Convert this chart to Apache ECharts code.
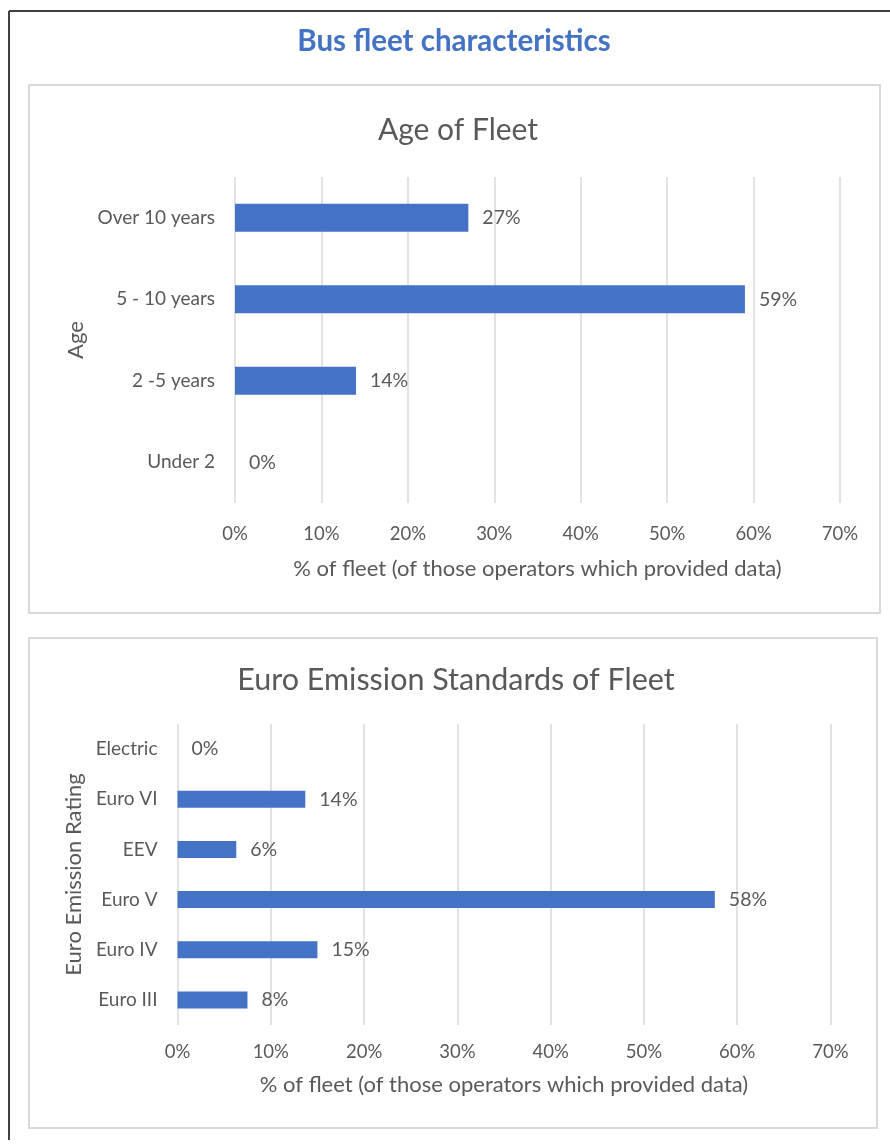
<!DOCTYPE html>
<html>
<head>
<meta charset="utf-8">
<script src="https://cdn.jsdelivr.net/npm/echarts@6/dist/echarts.min.js"></script>
<style>
html,body{margin:0;padding:0;background:#fff;}
#main{width:890px;height:1146px;}
</style>
</head>
<body>
<div id="main"></div>
<script>
// ---- Data ----
var pageTitle = 'Bus fleet characteristics';

var ageTitle = 'Age of Fleet';
var ageCategories = ['Over 10 years', '5 - 10 years', '2 -5 years', 'Under 2'];
var ageValues = [27, 59, 14, 0];
var ageAxisName = 'Age';

var euroTitle = 'Euro Emission Standards of Fleet';
var euroCategories = ['Electric', 'Euro VI', 'EEV', 'Euro V', 'Euro IV', 'Euro III'];
var euroValues = [0, 13.7, 6.3, 57.6, 15.0, 7.5];
var euroAxisName = 'Euro Emission Rating';

var xAxisName = '% of fleet (of those operators which provided data)';
var xMin = 0, xMax = 70, xInterval = 10;

// ---- Styles ----
var FONT = 'Lato';
var GREY = '#595959';
var BAR = '#4472C4';
var GRID = '#d9d9d9';

function pct(v){ return Math.round(v) + '%'; }

function xAxisCfg(gridIndex, margin, nameGap){
  return {
    type:'value', gridIndex:gridIndex, min:xMin, max:xMax, interval:xInterval,
    axisLine:{show:false}, axisTick:{show:false},
    splitLine:{show:true, lineStyle:{color:GRID, width:1.5}},
    axisLabel:{color:GREY, fontFamily:FONT, fontSize:18.5, margin:margin, formatter:function(v){return v+'%';}},
    name:xAxisName, nameLocation:'middle', nameGap:nameGap,
    nameTextStyle:{color:GREY, fontFamily:FONT, fontSize:22}
  };
}
function yAxisCfg(gridIndex, cats, name, nameGap){
  return {
    type:'category', gridIndex:gridIndex, data:cats, inverse:true,
    axisLine:{show:false}, axisTick:{show:false}, splitLine:{show:false},
    axisLabel:{color:GREY, fontFamily:FONT, fontSize:19, margin:20},
    name:name, nameLocation:'middle', nameGap:nameGap, nameRotate:90,
    nameTextStyle:{color:GREY, fontFamily:FONT, fontSize:22}
  };
}
function barSeries(idx, values, width){
  return {
    type:'bar', xAxisIndex:idx, yAxisIndex:idx, data:values, barWidth:width,
    itemStyle:{color:BAR}, silent:true,
    label:{show:true, position:'right', distance:14, color:GREY, fontFamily:FONT, fontSize:19.5,
      formatter:function(p){return pct(p.value);}}
  };
}

var chart = echarts.init(document.getElementById('main'), null, {renderer:'canvas'});
chart.setOption({
  animation:false,
  backgroundColor:'#ffffff',
  title:[
    {text:pageTitle, left:449, textAlign:'center', top:21, textStyle:{color:'#4472C4', fontFamily:FONT, fontSize:29.5, fontWeight:'bold'}},
    {text:ageTitle, left:453, textAlign:'center', top:110, textStyle:{color:GREY, fontFamily:FONT, fontSize:30, fontWeight:'normal'}},
    {text:euroTitle, left:451, textAlign:'center', top:660, textStyle:{color:GREY, fontFamily:FONT, fontSize:30.5, fontWeight:'normal'}}
  ],
  graphic:[
    {type:'line', shape:{x1:9, y1:11, x2:900, y2:11}, style:{stroke:'#404040', lineWidth:2}},
    {type:'line', shape:{x1:9, y1:11, x2:9, y2:1140}, style:{stroke:'#404040', lineWidth:2}},
    {type:'rect', shape:{x:29, y:85, width:851, height:528}, style:{fill:'none', stroke:'#d9d9d9', lineWidth:2}},
    {type:'rect', shape:{x:29, y:638, width:848, height:490}, style:{fill:'none', stroke:'#d9d9d9', lineWidth:2}}
  ],
  grid:[
    {left:235, top:177, width:605, height:326},
    {left:177.5, top:724, width:653, height:301}
  ],
  xAxis:[xAxisCfg(0, 22, 55), xAxisCfg(1, 18, 49)],
  yAxis:[yAxisCfg(0, ageCategories, ageAxisName, 148), yAxisCfg(1, euroCategories, euroAxisName, 90)],
  series:[barSeries(0, ageValues, 28), barSeries(1, euroValues, 17)]
});
</script>
</body>
</html>
